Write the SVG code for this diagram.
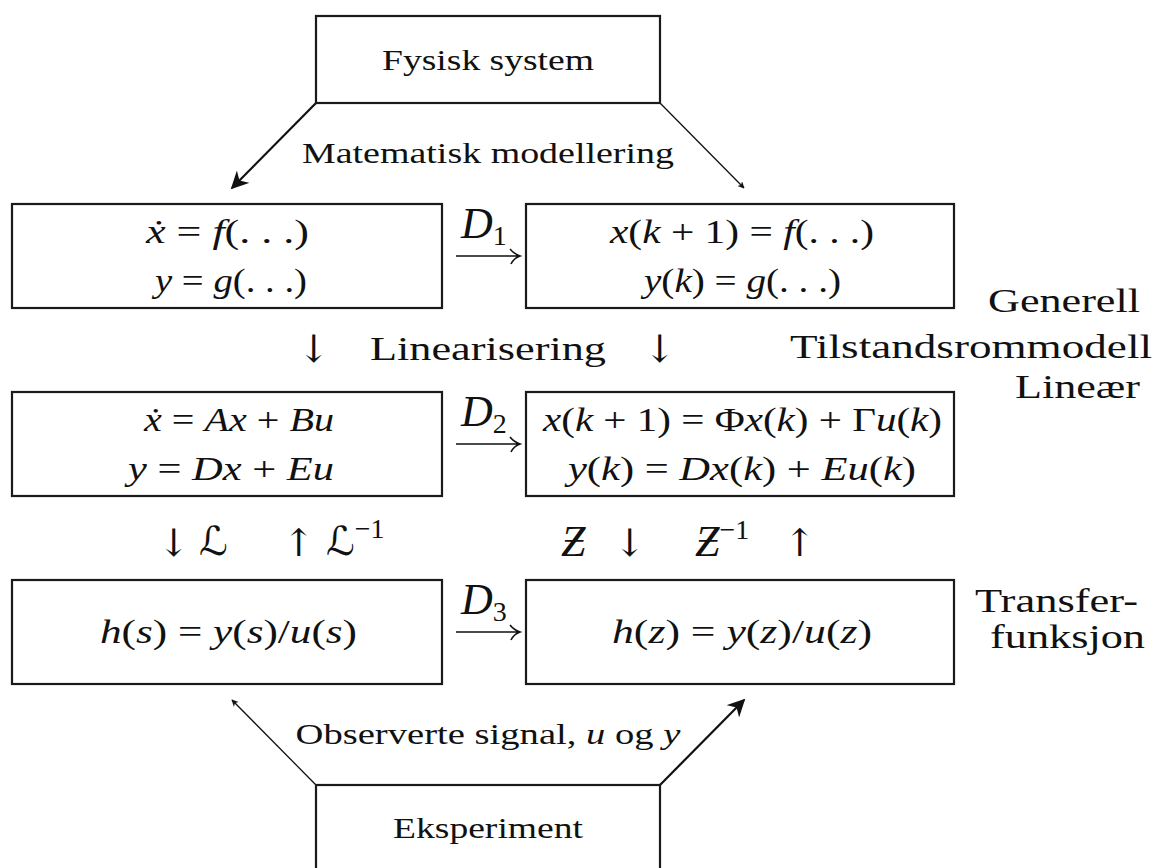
<svg xmlns="http://www.w3.org/2000/svg" width="1156" height="868" viewBox="0 0 1156 868">
<defs>
<style>
.box{fill:#fff;stroke:#1a1a1a;stroke-width:2.2}
.t{font-family:"Liberation Serif","DejaVu Serif",serif;fill:#111;font-size:30px}
.m{font-size:34px}
.big{font-size:34px}
.ar{font-family:"DejaVu Serif","Liberation Serif",serif;fill:#111;font-size:38px;text-anchor:middle}
.i{font-style:italic}
.c{text-anchor:middle}
.ln{stroke:#111;fill:none}
.dl{font-size:44px}
.sub{font-style:normal;font-size:28px}
.cal{font-family:"DejaVu Serif","DejaVu Sans",serif;fill:#111;font-size:40px}
.zz{font-family:"Liberation Serif","DejaVu Serif",serif;font-style:italic;fill:#111;font-size:44px}
.sup{font-family:"Liberation Serif","DejaVu Serif",serif;font-style:normal;font-size:28px}
</style>
<marker id="ah" viewBox="0 0 10 10" refX="9" refY="5" markerWidth="7" markerHeight="7" orient="auto" markerUnits="userSpaceOnUse">
<path d="M0,0 L10,5 L0,10 L3,5 Z" fill="#111"/>
</marker>
<marker id="ahb" viewBox="0 0 10 10" refX="9" refY="5" markerWidth="8" markerHeight="8" orient="auto">
<path d="M0,0 L10,5 L0,10 L3,5 Z" fill="#111"/>
</marker>
</defs>
<rect width="1156" height="868" fill="#fff"/>

<g id="connectors">
<line class="ln" x1="316" y1="103" x2="232" y2="188" stroke-width="2.2" marker-end="url(#ahb)"/>
<line class="ln" x1="660" y1="103" x2="744" y2="188" stroke-width="1.3" marker-end="url(#ah)"/>
<line class="ln" x1="316" y1="785" x2="232" y2="700" stroke-width="1.3" marker-end="url(#ah)"/>
<line class="ln" x1="660" y1="785" x2="744" y2="700" stroke-width="2.2" marker-end="url(#ahb)"/>
<g id="d1">
<path class="ln" stroke-width="1.6" d="M456,256 H519 M510,249 Q514,254 520,256 Q514,258 511,264"/>
<text class="t i dl" x="461" y="238">D<tspan class="sub" dy="7">1</tspan></text>
</g>
<g id="d2">
<path class="ln" stroke-width="1.6" d="M456,444 H519 M510,437 Q514,442 520,444 Q514,446 511,452"/>
<text class="t i dl" x="461" y="426">D<tspan class="sub" dy="7">2</tspan></text>
</g>
<g id="d3">
<path class="ln" stroke-width="1.6" d="M456,632 H519 M510,625 Q514,630 520,632 Q514,634 511,640"/>
<text class="t i dl" x="461" y="614">D<tspan class="sub" dy="7">3</tspan></text>
</g>
<text class="t c" x="488" y="163" textLength="372" lengthAdjust="spacingAndGlyphs">Matematisk modellering</text>
<text class="t c" x="488" y="744" textLength="385" lengthAdjust="spacingAndGlyphs">Observerte signal, <tspan class="i">u</tspan> og <tspan class="i">y</tspan></text>
<g id="lin">
<text class="ar" x="314" y="362">↓</text>
<text class="t big" x="370" y="360" textLength="236" lengthAdjust="spacingAndGlyphs">Linearisering</text>
<text class="ar" x="660" y="362">↓</text>
</g>
<g id="laplace">
<text class="ar" x="174" y="556">↓</text>
<text class="cal" x="199" y="555">ℒ</text>
<text class="ar" x="299" y="556">↑</text>
<text class="cal" x="326" y="555">ℒ<tspan class="sup" dy="-17">−1</tspan></text>
</g>
<g id="ztrans">
<text class="zz" x="561" y="556">Ƶ</text>
<text class="ar" x="630" y="556">↓</text>
<text class="zz" x="695" y="556">Ƶ<tspan class="sup" dy="-17">−1</tspan></text>
<text class="ar" x="800" y="556">↑</text>
</g>
</g>

<g id="fysisk">
<rect class="box" x="316" y="16" width="344" height="87"/>
<text class="t c" x="488" y="70" textLength="212" lengthAdjust="spacingAndGlyphs">Fysisk system</text>
</g>

<g id="gen-cont">
<rect class="box" x="12" y="204" width="430" height="104"/>
<text class="t m" x="146" y="243" textLength="163" lengthAdjust="spacingAndGlyphs"><tspan class="i">ẋ</tspan> = <tspan class="i">f</tspan>(. . .)</text>
<text class="t m" x="155" y="292" textLength="152" lengthAdjust="spacingAndGlyphs"><tspan class="i">y</tspan> = <tspan class="i">g</tspan>(. . .)</text>
</g>

<g id="gen-disc">
<rect class="box" x="526" y="204" width="428" height="104"/>
<text class="t m" x="610" y="243" textLength="264" lengthAdjust="spacingAndGlyphs"><tspan class="i">x</tspan>(<tspan class="i">k</tspan> + 1) = <tspan class="i">f</tspan>(. . .)</text>
<text class="t m" x="644" y="292" textLength="197" lengthAdjust="spacingAndGlyphs"><tspan class="i">y</tspan>(<tspan class="i">k</tspan>) = <tspan class="i">g</tspan>(. . .)</text>
</g>

<g id="lin-cont">
<rect class="box" x="12" y="392" width="430" height="104"/>
<text class="t m" x="144" y="431" textLength="190" lengthAdjust="spacingAndGlyphs"><tspan class="i">ẋ</tspan> = <tspan class="i">Ax</tspan> + <tspan class="i">Bu</tspan></text>
<text class="t m" x="128" y="480" textLength="206" lengthAdjust="spacingAndGlyphs"><tspan class="i">y</tspan> = <tspan class="i">Dx</tspan> + <tspan class="i">Eu</tspan></text>
</g>

<g id="lin-disc">
<rect class="box" x="526" y="392" width="428" height="104"/>
<text class="t m" x="543" y="431" textLength="399" lengthAdjust="spacingAndGlyphs"><tspan class="i">x</tspan>(<tspan class="i">k</tspan> + 1) = Φ<tspan class="i">x</tspan>(<tspan class="i">k</tspan>) + Γ<tspan class="i">u</tspan>(<tspan class="i">k</tspan>)</text>
<text class="t m" x="568" y="480" textLength="348" lengthAdjust="spacingAndGlyphs"><tspan class="i">y</tspan>(<tspan class="i">k</tspan>) = <tspan class="i">Dx</tspan>(<tspan class="i">k</tspan>) + <tspan class="i">Eu</tspan>(<tspan class="i">k</tspan>)</text>
</g>

<g id="tf-cont">
<rect class="box" x="12" y="580" width="430" height="104"/>
<text class="t m" x="100" y="643" textLength="257" lengthAdjust="spacingAndGlyphs"><tspan class="i">h</tspan>(<tspan class="i">s</tspan>) = <tspan class="i">y</tspan>(<tspan class="i">s</tspan>)/<tspan class="i">u</tspan>(<tspan class="i">s</tspan>)</text>
</g>

<g id="tf-disc">
<rect class="box" x="526" y="580" width="428" height="104"/>
<text class="t m" x="612" y="643" textLength="260" lengthAdjust="spacingAndGlyphs"><tspan class="i">h</tspan>(<tspan class="i">z</tspan>) = <tspan class="i">y</tspan>(<tspan class="i">z</tspan>)/<tspan class="i">u</tspan>(<tspan class="i">z</tspan>)</text>
</g>

<g id="eksperiment">
<rect class="box" x="316" y="785" width="344" height="100"/>
<text class="t c" x="488" y="838" textLength="190" lengthAdjust="spacingAndGlyphs">Eksperiment</text>
</g>

<g id="labels">
<text class="t big" x="988" y="312" textLength="152" lengthAdjust="spacingAndGlyphs">Generell</text>
<text class="t big" x="790" y="358" textLength="362" lengthAdjust="spacingAndGlyphs">Tilstandsrommodell</text>
<text class="t big" x="1015" y="398" textLength="125" lengthAdjust="spacingAndGlyphs">Lineær</text>
<text class="t big" x="975" y="612" textLength="163" lengthAdjust="spacingAndGlyphs">Transfer-</text>
<text class="t big" x="990" y="648" textLength="155" lengthAdjust="spacingAndGlyphs">funksjon</text>
</g>
</svg>
